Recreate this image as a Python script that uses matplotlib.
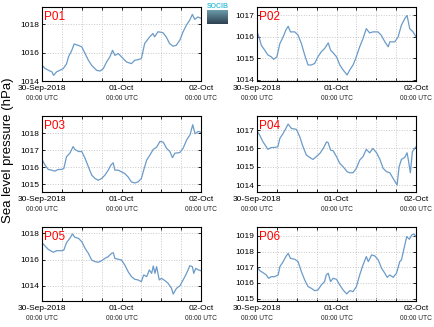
import numpy as np
import matplotlib
matplotlib.use("Agg")
import matplotlib.pyplot as plt
from matplotlib.ticker import MultipleLocator
import matplotlib.transforms as mtrans

plt.rcParams['font.family'] = ['Liberation Sans', 'DejaVu Sans']

# hours since 30-Sep-2018 00:00 UTC, pressure in hPa
t1 = [0, 1, 2, 3, 3.5, 4.4, 5.4, 6.4, 7.4, 8, 9, 9.7, 11, 12, 13, 14, 15, 16.5, 17.5, 18.5,
      19.5, 20.5, 21.3, 22, 23, 24, 25.5, 27, 28, 29, 30, 31, 32.5, 33.5, 34, 35, 36.5, 37.5,
      38.5, 39.5, 40.5, 41.6, 42.6, 43.6, 44.6, 45.4, 46.1, 47.1, 48]
p1 = [1015.1, 1014.87, 1014.75, 1014.64, 1014.4, 1014.64, 1014.75, 1014.87, 1015.2, 1015.7,
      1016.16, 1016.6, 1016.5, 1016.4, 1015.93, 1015.46, 1015.1, 1014.75, 1014.7, 1014.87,
      1015.34, 1015.7, 1016.16, 1015.8, 1015.93, 1015.7, 1015.34, 1015.22, 1015.46, 1015.5,
      1015.58, 1016.64, 1017.1, 1017.34, 1017.1, 1017.46, 1017.4, 1017.1, 1016.64, 1016.45,
      1016.5, 1016.87, 1017.46, 1017.93, 1018.28, 1018.68, 1018.33, 1018.5, 1018.4]

t2 = [0, 0.6, 1.3, 2.3, 3.3, 4.3, 5, 6, 6.9, 7.9, 8.7, 9.4, 10.1, 11.4, 12.4, 13.4, 14.4,
      15.4, 16.4, 17.4, 18.4, 19.4, 20.4, 21.5, 22.2, 23, 24, 25, 26, 27.2, 28, 29, 29.8, 31,
      32, 33, 34, 35, 36.5, 37.5, 38.6, 39.6, 40.1, 41.6, 42.6, 43.6, 44.6, 45.3, 46.1, 47.1, 48]
p2 = [1016.22, 1015.99, 1015.6, 1015.38, 1015.15, 1015.07, 1014.95, 1015.07, 1015.68, 1015.99,
      1016.3, 1016.48, 1016.22, 1016.22, 1016.07, 1015.68, 1015.15, 1014.69, 1014.69, 1014.76,
      1015.07, 1015.3, 1015.45, 1015.71, 1015.38, 1015.25, 1015.07, 1014.69, 1014.46, 1014.23,
      1014.46, 1014.69, 1014.99, 1015.53, 1015.91, 1016.37, 1016.17, 1016.22, 1016.22, 1016.07,
      1015.76, 1015.53, 1015.76, 1015.76, 1015.99, 1016.53, 1016.83, 1016.98, 1016.37, 1016.22,
      1015.99]

t3 = [0, 0.9, 1.9, 2.9, 3.9, 4.9, 5.9, 6.6, 7.4, 8.4, 9.4, 9.9, 11, 12, 13, 14, 15, 16, 17,
      18, 19, 20, 20.8, 21.5, 22, 23, 24, 25, 26, 27, 28, 29, 30, 30.7, 31.6, 32.6, 33.6, 34.6,
      35.6, 36.6, 37.6, 38.6, 39.4, 40.1, 41.6, 42.6, 43.7, 44.7, 45.5, 46.2, 47.2, 48]
p3 = [1016.46, 1016.13, 1015.87, 1015.83, 1015.77, 1015.87, 1015.87, 1015.93, 1016.62, 1016.82,
      1017.21, 1017.05, 1016.92, 1016.92, 1016.52, 1016.03, 1015.54, 1015.34, 1015.24, 1015.34,
      1015.54, 1015.83, 1016.13, 1016.26, 1015.83, 1015.83, 1015.73, 1015.63, 1015.43, 1015.14,
      1015.08, 1015.14, 1015.34, 1015.83, 1016.42, 1016.72, 1017.05, 1017.17, 1017.51, 1017.47,
      1017.11, 1016.92, 1016.56, 1016.82, 1016.86, 1017.11, 1017.61, 1017.9, 1018.49, 1017.96,
      1018.1, 1018.04]

t4 = [0, 0.8, 1.8, 2.8, 3.3, 4.3, 5.3, 6.3, 6.9, 7.9, 8.7, 9.4, 10.4, 11.9, 12.9, 13.9, 14.9,
      15.9, 16.9, 17.9, 19, 20, 21, 21.5, 22.2, 23, 24, 25, 26, 27.2, 28, 29, 30, 31, 32, 33,
      34, 35, 36.1, 37.1, 38.1, 39.1, 40.1, 41.1, 42.3, 42.9, 43.6, 44.6, 45.3, 45.7, 46.3,
      46.9, 48]
p4 = [1016.96, 1016.73, 1016.36, 1016.09, 1015.95, 1016.05, 1016.05, 1016.09, 1016.55, 1016.82,
      1017.09, 1017.33, 1017.09, 1017.04, 1016.64, 1016.09, 1015.64, 1015.51, 1015.4, 1015.55,
      1015.73, 1016.0, 1016.36, 1016.31, 1015.91, 1015.87, 1015.55, 1015.18, 1015.0, 1014.73,
      1014.67, 1014.67, 1014.91, 1015.36, 1015.55, 1015.95, 1015.76, 1016.0, 1015.76, 1015.4,
      1014.91, 1014.73, 1014.67, 1014.36, 1014.0, 1015.0, 1015.4, 1015.51, 1015.76, 1015.36,
      1014.67, 1015.82, 1016.09]

t5 = [0, 0.9, 1.9, 3.4, 4.4, 5.9, 6.6, 7.4, 8.4, 9.2, 9.9, 11, 12, 13, 14, 15, 16, 17, 18,
      19, 20, 21, 21.5, 22, 23, 24, 25, 26, 27, 28, 29, 30, 30.7, 31.6, 32.4, 33.1, 33.6, 34.1,
      34.6, 35.4, 36.1, 37.1, 38.1, 39.1, 39.6, 40.6, 41.6, 42.6, 43.4, 44.1, 44.6, 45.4, 45.8,
      46.4, 47.2, 48]
p5 = [1017.29, 1017.04, 1016.78, 1016.56, 1016.68, 1016.68, 1016.73, 1017.29, 1017.62, 1017.95,
      1017.7, 1017.62, 1017.37, 1016.86, 1016.48, 1015.97, 1015.85, 1015.8, 1015.92, 1016.1,
      1016.23, 1016.48, 1016.53, 1016.1, 1016.03, 1015.97, 1015.59, 1015.09, 1014.71, 1014.51,
      1014.46, 1014.33, 1014.84, 1014.71, 1015.22, 1014.96, 1015.52, 1014.96, 1015.47, 1014.46,
      1014.58, 1014.41, 1014.2, 1013.82, 1013.39, 1013.82, 1014.0, 1014.46, 1014.84, 1015.22,
      1015.54, 1015.47, 1014.96, 1015.34, 1015.22, 1015.16]

t6 = [0, 0.8, 1.8, 2.8, 3.5, 4.3, 5.3, 6.4, 6.9, 7.9, 8.7, 9.4, 10.1, 11.4, 12.4, 13.4, 14.4,
      15.4, 16.4, 17.4, 18.4, 19.4, 20.4, 20.9, 21.5, 22.2, 23, 24, 25, 26, 27.1, 28, 29, 30,
      31, 32, 33, 33.6, 34.6, 35.6, 36.6, 37.6, 38.6, 39.3, 40.1, 41.1, 42.1, 43.1, 43.6, 44.4,
      45.2, 46, 46.7, 47.4, 48]
p6 = [1017.04, 1016.79, 1016.66, 1016.51, 1016.3, 1016.4, 1016.4, 1016.51, 1017.04, 1017.36,
      1017.68, 1017.89, 1017.57, 1017.51, 1017.36, 1016.72, 1016.19, 1015.77, 1015.66, 1015.51,
      1015.55, 1015.87, 1016.09, 1016.51, 1016.62, 1016.09, 1016.3, 1016.23, 1015.87, 1015.55,
      1015.3, 1015.51, 1015.45, 1015.77, 1016.51, 1017.15, 1017.68, 1017.36, 1017.79, 1017.72,
      1017.47, 1016.94, 1016.62, 1016.36, 1016.51, 1016.36, 1016.62, 1017.36, 1017.47, 1018.21,
      1018.96, 1018.79, 1019.06, 1019.13, 1018.96]

names = ["P01", "P02", "P03", "P04", "P05", "P06"]
times = [t1, t2, t3, t4, t5, t6]
press = [p1, p2, p3, p4, p5, p6]
yticks = [[1014, 1016, 1018], [1014, 1015, 1016, 1017], [1015, 1016, 1017, 1018],
          [1014, 1015, 1016, 1017], [1014, 1016, 1018], [1015, 1016, 1017, 1018, 1019]]
ylims = [(1014, 1019.2), (1013.95, 1017.37), (1014.55, 1019.0),
         (1013.62, 1017.77), (1012.86, 1018.48), (1014.85, 1019.57)]
xlabels = ["30-Sep-2018", "01-Oct", "02-Oct"]

W, H = 435, 327
fig = plt.figure(figsize=(W / 100, H / 100), dpi=100)

lefts = [42, 257]
rows = [(7, 81), (116, 192), (227, 301)]
for i in range(6):
    r, c = divmod(i, 2)
    top, bot = rows[r]
    ax = fig.add_axes([lefts[c] / W, 1 - bot / H, 159 / W, (bot - top) / H])
    ax.plot(times[i], press[i], color="#6b9bc8", lw=0.9)
    ax.set_xlim(0, 48)
    ax.set_ylim(*ylims[i])
    ax.set_yticks(yticks[i])
    ax.set_xticks([0, 24, 48])
    ax.set_xticklabels(xlabels)
    ax.xaxis.set_minor_locator(MultipleLocator(6))
    ax.grid(True, which="both", axis="x", ls=":", color="#c8c8c8", lw=0.7)
    ax.grid(True, which="major", axis="y", ls=":", color="#c8c8c8", lw=0.7)
    ax.tick_params(which="both", direction="in", top=True, right=True,
                   length=2.5, width=0.6, labelsize=6, pad=2)
    ax.tick_params(axis="x", pad=3)
    for s in ax.spines.values():
        s.set_linewidth(0.8)
    trans = mtrans.blended_transform_factory(ax.transData, ax.transAxes)
    for x in [0, 24, 48]:
        ax.annotate("00:00 UTC", xy=(x, 0), xycoords=trans, xytext=(0, -12.5),
                    textcoords="offset points", ha="center", va="center",
                    fontsize=4.8, color="#222222")
    ax.text(0.015, 0.95, names[i], transform=ax.transAxes, color="red",
            fontsize=8.5, ha="left", va="top")

fig.text(0.018, 0.54, "Sea level pressure (hPa)", rotation=90,
         ha="center", va="center", fontsize=9.5)

# small logo in the top corner
lax = fig.add_axes([207 / W, 1 - 24 / H, 21 / W, 14 / H])
grad = np.linspace(0, 1, 20).reshape(-1, 1)
cmap = matplotlib.colors.LinearSegmentedColormap.from_list("logo", ["#6a9aa8", "#2f4252"])
lax.imshow(grad, aspect="auto", cmap=cmap)
lax.axis("off")
fig.text(217.5 / W, 1 - 7 / H, "SOCIB", color="#40c0d8", fontsize=5,
         ha="center", va="center", weight="bold")

fig.savefig("out.png", dpi=100)
